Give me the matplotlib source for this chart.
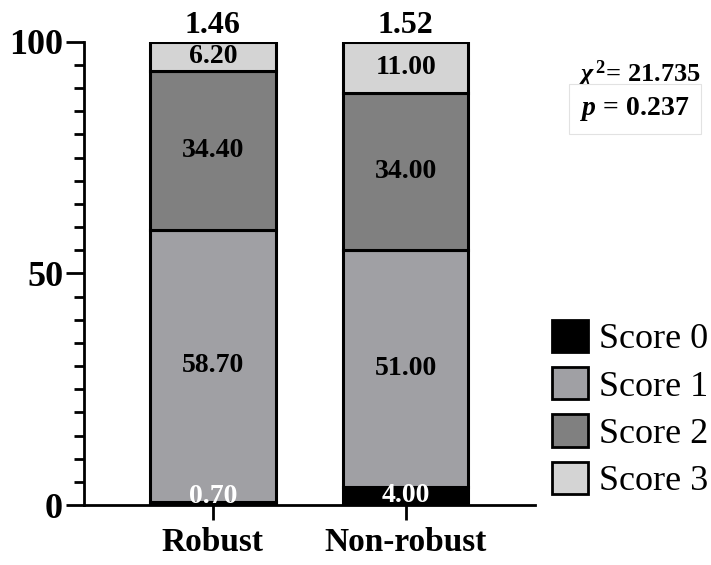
import numpy as np
import matplotlib
matplotlib.use('Agg')
import matplotlib.pyplot as plt
import matplotlib.ticker as ticker
from matplotlib.patches import Patch

plt.rcParams['font.family'] = ['Liberation Serif', 'DejaVu Serif']
plt.rcParams['mathtext.fontset'] = 'custom'
plt.rcParams['mathtext.rm'] = 'Liberation Serif:bold'
plt.rcParams['mathtext.it'] = 'Liberation Serif:italic:bold'
plt.rcParams['mathtext.bf'] = 'Liberation Serif:bold'

groups = ['Robust', 'Non-robust']
score_names = ['Score 0', 'Score 1', 'Score 2', 'Score 3']
score0 = [0.70, 4.00]
score1 = [58.70, 51.00]
score2 = [34.40, 34.00]
score3 = [6.20, 11.00]
mean_scores = ['1.46', '1.52']
chi2_text = r'$\chi^{\,2}$= 21.735'
p_text = r'$p$ = 0.237'

colors = ['#000000', '#A0A0A4', '#808080', '#D4D4D4']
label_colors = ['white', 'black', 'black', 'black']

fig = plt.figure(figsize=(7.11, 5.65), dpi=100)
ax = fig.add_axes([0.118, 0.106, 0.634, 0.820])

x = np.arange(len(groups))
w = 0.65
bottom = np.zeros(len(groups))
for vals, col, lcol in zip([score0, score1, score2, score3], colors, label_colors):
    vals = np.array(vals)
    ax.bar(x, vals, w, bottom=bottom, color=col, edgecolor='black', linewidth=2.2, zorder=2)
    for xi, b, v in zip(x, bottom, vals):
        yc = max(b + v / 2, 1.9)
        ax.text(xi, yc, '%.2f' % v, ha='center', va='center', color=lcol,
                fontsize=20, fontweight='bold', zorder=3)
    bottom += vals

for xi, t in zip(x, mean_scores):
    ax.text(xi, 100.3, t, ha='center', va='bottom', fontsize=23, fontweight='bold')

ax.set_xlim(-0.668, 1.668)
ax.set_ylim(0, 100)
ax.set_xticks(x)
ax.set_xticklabels(groups, fontsize=24, fontweight='bold')
ax.set_yticks([0, 50, 100])
ax.set_yticklabels(['0', '50', '100'], fontsize=26, fontweight='bold')
ax.yaxis.set_minor_locator(ticker.MultipleLocator(5))
ax.tick_params(axis='y', which='major', length=13, width=2, pad=2)
ax.tick_params(axis='y', which='minor', length=7, width=2)
ax.tick_params(axis='x', which='major', length=11, width=2, pad=5)
for s in ['top', 'right']:
    ax.spines[s].set_visible(False)
for s in ['left', 'bottom']:
    ax.spines[s].set_linewidth(2)

fig.text(0.899, 0.869, chi2_text, ha='center', va='center', fontsize=19, fontweight='bold')
fig.text(0.893, 0.807, p_text, ha='center', va='center', fontsize=20, fontweight='bold',
         bbox=dict(boxstyle='square,pad=0.4', facecolor='white', edgecolor='#E2E2E2', linewidth=0.8))

handles = [Patch(facecolor=c, edgecolor='black', linewidth=2) for c in colors]
fig.legend(handles, score_names, loc='lower left', bbox_to_anchor=(0.776, 0.118),
           frameon=False, fontsize=26, handlelength=1.0, handleheight=1.0,
           handletextpad=0.3, labelspacing=0.3, borderpad=0.0, borderaxespad=0.0)

fig.savefig('out.png', dpi=100)
